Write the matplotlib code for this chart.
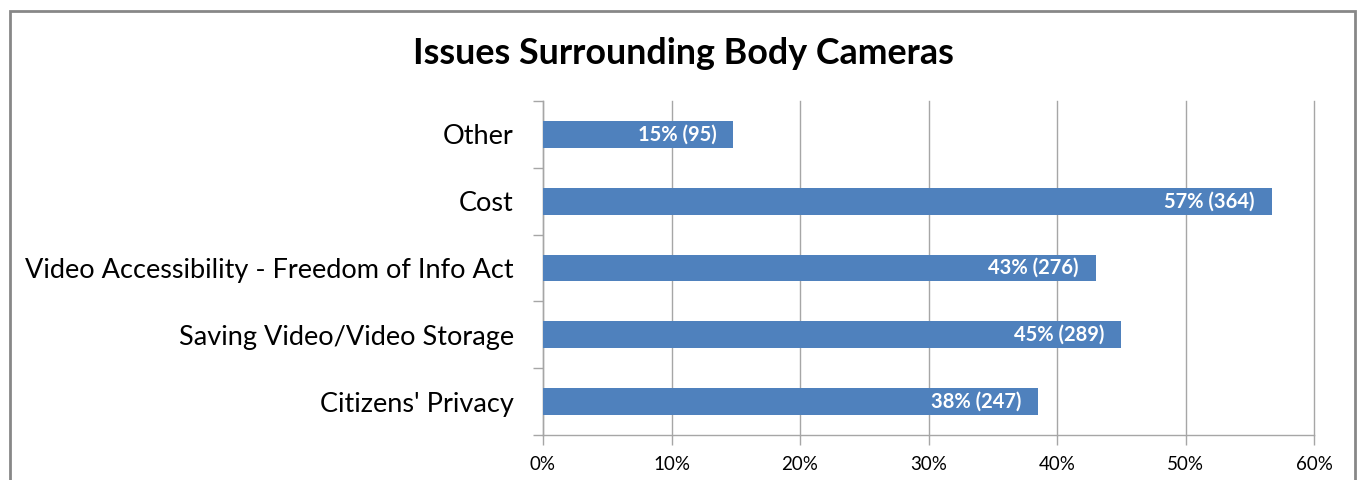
import matplotlib
matplotlib.use("Agg")
import matplotlib.pyplot as plt
from matplotlib.patches import Rectangle
from matplotlib.ticker import FixedLocator

categories = ["Citizens' Privacy", "Saving Video/Video Storage",
              "Video Accessibility - Freedom of Info Act", "Cost", "Other"]
percents = [38.5, 45.0, 43.0, 56.7, 14.8]
counts = [247, 289, 276, 364, 95]
xticks = [0, 10, 20, 30, 40, 50, 60]
title = "Issues Surrounding Body Cameras"

plt.rcParams['font.family'] = ['Lato', 'DejaVu Sans']

fig = plt.figure(figsize=(13.61, 4.80), dpi=100)
W, H = 1361, 480
ax = fig.add_axes([543 / W, 1 - 435 / H, (1314 - 543) / W, (435 - 101) / H])

grey = '#A6A6A6'
ypos = list(range(len(categories)))
ax.barh(ypos, percents, height=0.4, color='#4F81BD', zorder=3)
for y, p, c in zip(ypos, percents, counts):
    ax.annotate(f"{round(p):.0f}% ({c})", xy=(p, y), xytext=(-12, 0),
                textcoords='offset points', ha='right', va='center',
                color='white', fontweight='bold', fontsize=14.5, zorder=4)

ax.set_xlim(0, 60)
ax.set_ylim(-0.5, len(categories) - 0.5)
ax.set_xticks(xticks)
ax.set_xticklabels([f"{t}%" for t in xticks], fontsize=13.5)
ax.set_yticks(ypos)
ax.set_yticklabels(categories, fontsize=19.5)
ax.yaxis.set_minor_locator(FixedLocator([i - 0.5 for i in range(len(categories) + 1)]))
ax.tick_params(axis='y', which='major', length=0, pad=21)
ax.tick_params(axis='y', which='minor', length=7, color=grey, width=1)
ax.tick_params(axis='x', which='major', length=7, color=grey, width=1, pad=8)
ax.grid(axis='x', color=grey, lw=1, zorder=0)
for gl in ax.get_xgridlines():
    gl.set_clip_on(False)
for s in ['top', 'right']:
    ax.spines[s].set_visible(False)
for s in ['left', 'bottom']:
    ax.spines[s].set_color(grey)
    ax.spines[s].set_linewidth(1)

fig.text(683 / W, 1 - 53 / H, title, ha='center', va='center',
         fontsize=25.8, fontweight='bold')

fig.patches.append(Rectangle((10 / W, -0.1), (1355 - 10) / W, 1.1 - 11 / H,
                             transform=fig.transFigure, fill=False,
                             edgecolor='#878787', lw=2, clip_on=False))

fig.savefig("out.png", dpi=100)
